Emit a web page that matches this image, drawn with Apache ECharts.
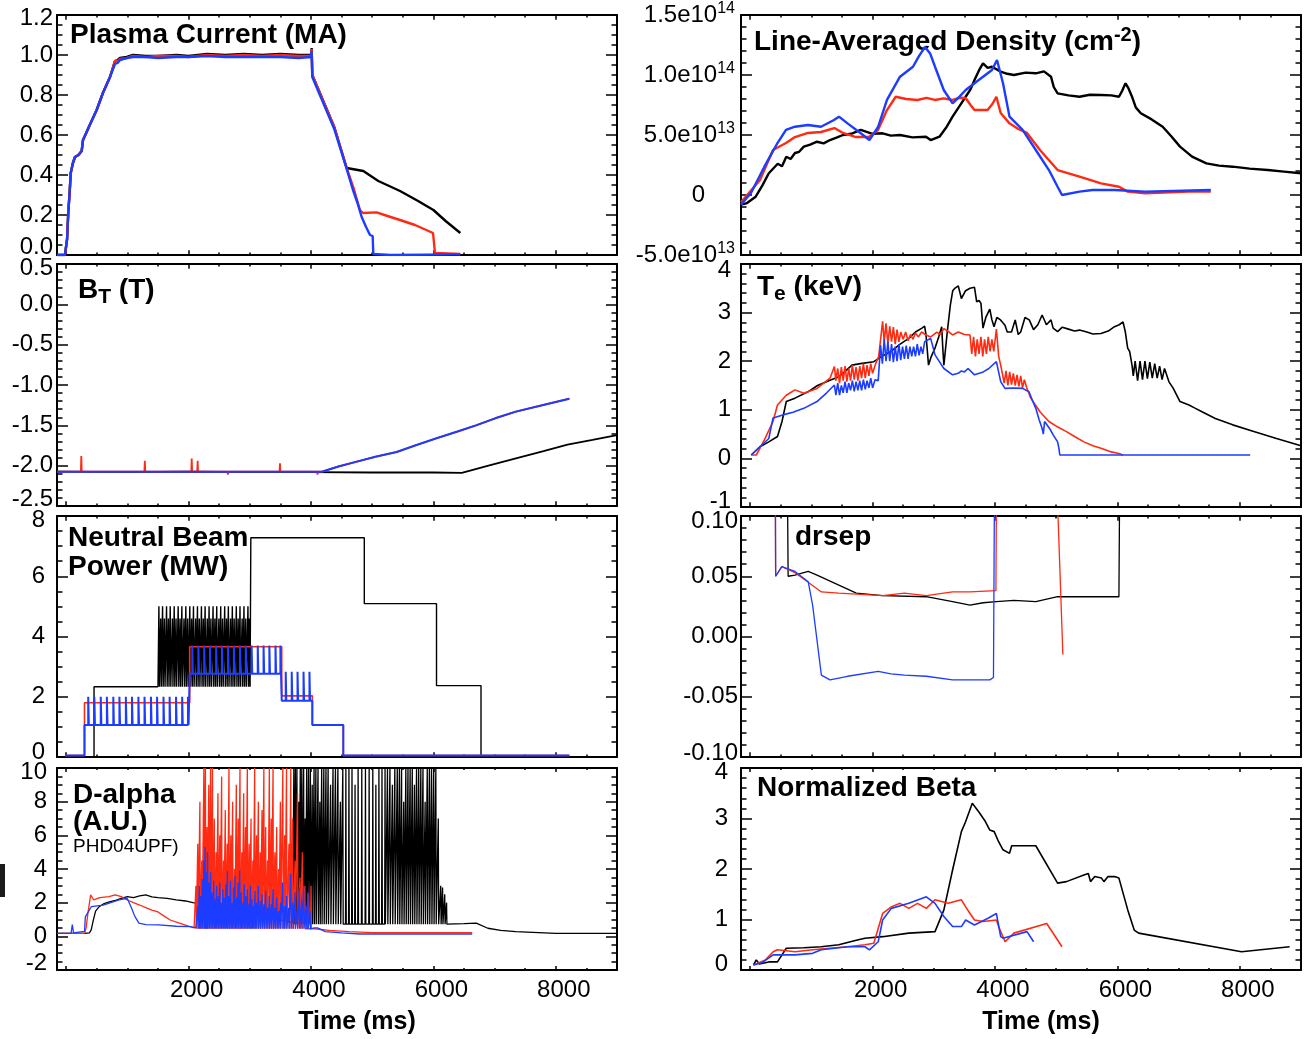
<!DOCTYPE html>
<html><head><meta charset="utf-8">
<script src="https://cdn.jsdelivr.net/npm/echarts@6/dist/echarts.min.js"></script>
<style>html,body{margin:0;padding:0;background:#fff}#c{width:1304px;height:1039px}</style>
</head><body><div id="c"></div>
<script>
// ---------------- DATA (time in ms) ----------------
const xTickLabels = [2000, 4000, 6000, 8000];

// Plasma current (MA)
const ipBlack = [[-150,0],[-20,0],[-5,0.01],[15,0.08],[34,0.21],[60,0.33],[74,0.41],[110,0.46],[144,0.49],[200,0.5],[253,0.52],[275,0.575],[300,0.58],[400,0.66],[498,0.725],[600,0.81],[716,0.89],[797,0.97],[840,0.975],[879,0.985],[989,0.99],[1092,1.0],[1300,0.995],[1500,0.995],[1800,1.0],[2000,0.995],[2300,1.005],[2600,1.0],[2900,1.005],[3200,1.0],[3500,1.005],[3800,1.0],[4000,1.0],[4011,1.035],[4021,0.9],[4040,0.9],[4380,0.64],[4583,0.435],[4610,0.43],[4855,0.42],[5100,0.37],[5455,0.32],[5750,0.27],[6000,0.225],[6200,0.17],[6440,0.11]];
const ipRed = [[-150,0],[-20,0],[-5,0.01],[15,0.08],[34,0.21],[60,0.33],[74,0.41],[110,0.46],[144,0.49],[200,0.5],[253,0.52],[275,0.575],[300,0.58],[400,0.66],[498,0.725],[600,0.81],[716,0.89],[797,0.97],[840,0.97],[879,0.98],[989,0.985],[1092,0.995],[1300,0.99],[1500,0.995],[1800,0.995],[2000,0.99],[2300,1.0],[2600,0.995],[2900,1.0],[3200,0.995],[3500,1.0],[3800,0.995],[4000,0.995],[4011,1.03],[4021,0.9],[4040,0.9],[4380,0.64],[4583,0.435],[4700,0.33],[4800,0.225],[4850,0.21],[5073,0.213],[5250,0.195],[5455,0.175],[5700,0.15],[5994,0.11],[6015,0.105],[6026,0.01],[6440,0.005]];
const ipBlue = [[-150,0],[-20,0],[-5,0.01],[15,0.08],[34,0.21],[60,0.33],[74,0.41],[110,0.46],[144,0.49],[200,0.5],[253,0.52],[275,0.575],[300,0.58],[400,0.66],[498,0.725],[600,0.81],[716,0.89],[797,0.955],[840,0.96],[879,0.975],[989,0.985],[1092,0.99],[1300,0.99],[1500,0.985],[1800,0.99],[2000,0.99],[2300,0.995],[2600,0.99],[2900,0.99],[3200,0.99],[3500,0.99],[3800,0.985],[4000,0.99],[4011,1.02],[4021,0.89],[4040,0.89],[4380,0.63],[4583,0.43],[4686,0.325],[4760,0.26],[4828,0.19],[4900,0.14],[4964,0.1],[5008,0.095],[5018,0.005],[5300,0.0],[6440,0.003]];

// Toroidal field B_T (T)
const btBlack = [[-150,-2.075],[1000,-2.08],[2000,-2.075],[3000,-2.08],[4000,-2.08],[5000,-2.085],[6000,-2.085],[6464,-2.09],[6900,-2.0],[7348,-1.91],[7800,-1.82],[8191,-1.74],[8600,-1.68],[9000,-1.62]];
const btRed = [[-150,-2.075],[240,-2.075],[247,-1.88],[254,-2.075],[1278,-2.075],[1285,-1.94],[1292,-2.075],[2044,-2.075],[2051,-1.91],[2058,-2.075],[2141,-2.075],[2148,-1.94],[2155,-2.075],[2635,-2.075],[2642,-2.11],[2649,-2.075],[3486,-2.075],[3493,-1.97],[3500,-2.075],[4099,-2.075],[4106,-2.11],[4113,-2.075],[4180,-2.075],[4450,-2.01],[4750,-1.95],[5050,-1.89],[5402,-1.83],[5700,-1.75],[6051,-1.66],[6380,-1.58],[6696,-1.50],[7020,-1.41],[7348,-1.33],[7780,-1.25],[8222,-1.17]];
const btBlue = [[-150,-2.075],[4180,-2.075],[4450,-2.01],[4750,-1.95],[5050,-1.89],[5402,-1.83],[5700,-1.75],[6051,-1.66],[6380,-1.58],[6696,-1.50],[7020,-1.41],[7348,-1.33],[7780,-1.25],[8222,-1.17]];

// Neutral beam power (MW)
const nbBlackPre = [[-150,0],[455,0],[455,2.33],[1500,2.33]];
const nbBlackBase = 2.33;
const nbBlackPulses = [[1515,5.0],[1545,4.6],[1575,5.0],[1605,4.6],[1640,5.0],[1670,4.6],[1700,5.0],[1735,4.6],[1765,5.0],[1795,4.6],[1830,5.0],[1860,4.6],[1890,5.0],[1925,4.6],[1955,5.0],[1985,4.6],[2020,5.0],[2050,4.6],[2080,5.0],[2115,4.6],[2145,5.0],[2175,4.6],[2210,5.0],[2240,4.6],[2270,5.0],[2305,4.6],[2335,5.0],[2365,4.6],[2400,5.0],[2430,4.6],[2460,5.0],[2495,4.6],[2525,5.0],[2555,4.6],[2590,5.0],[2620,4.6],[2650,5.0],[2685,4.6],[2715,5.0],[2745,4.6],[2780,5.0],[2810,4.6],[2840,5.0],[2875,4.6],[2905,5.0],[2935,4.6],[2970,5.0],[2995,4.6]];
const nbBlackPost = [[3017,2.33],[3017,7.28],[4871,7.28],[4871,5.09],[6051,5.09],[6051,2.37],[6778,2.37],[6778,0],[9000,0]];
const nbRed = [[-20,0.05],[299,0.05],[299,1.80],[2018,1.80],[2018,3.66],[3522,3.66],[3522,2.03],[4022,2.03],[4022,1.06],[4528,1.06],[4528,0.05],[8222,0.05]];
const nbBlueLevels = [1.06, 2.76, 1.87];
const nbBlueHighs = [2.0, 3.70, 2.83];
const nbBluePulses1 = [360,460,565,665,770,870,975,1075,1180,1280,1385,1485,1590,1690,1795,1895,1990];
const nbBluePulses2 = [2060,2160,2255,2350,2450,2545,2645,2740,2840,2935,3030,3130,3225,3320,3420,3500];
const nbBluePulses3 = [3587,3685,3780,3878,3975];

// D-alpha (A.U.)
const daBlackPre = [[-150,0.18],[300,0.18],[380,0.2],[410,0.4],[440,0.9],[480,1.5],[540,1.76],[620,1.95],[720,2.06],[820,2.15],[900,2.25],[1000,2.36],[1100,2.3],[1200,2.4],[1300,2.46],[1400,2.35],[1500,2.3],[1650,2.25],[1800,2.16],[1950,2.1],[2070,2.0],[2400,1.8],[2800,1.5],[3200,1.2],[3600,0.9],[3700,0.8]];
const daBlackBase = 0.72;
const daBlackElms = [[3720,10],[3745,10],[3770,10],[3800,8],[3825,10],[3850,10],[3880,10],[3905,7],[3930,10],[3960,10],[3990,10],[4020,9],[4050,10],[4080,10],[4115,10],[4145,8],[4175,10],[4210,10],[4245,10],[4280,10],[4320,9],[4360,10],[4400,10],[4440,10],[4480,8],[4520,10],[4570,10],[4620,10],[4670,10],[4720,9],[4770,10],[4830,10],[4890,10],[4950,10],[5010,10],[5060,9],[5110,10],[5160,10],[5210,10],[5250,10],[5290,10],[5330,9],[5370,10],[5410,10],[5445,10],[5480,10],[5515,8],[5550,10],[5585,10],[5620,10],[5655,10],[5690,9],[5725,10],[5760,10],[5795,10],[5830,10],[5865,8],[5900,10],[5935,10],[5970,10],[6005,10],[6040,10],[6080,7],[6120,3.0],[6150,2.9],[6185,2.5],[6215,2.0]];
const daBlackPost = [[6245,0.78],[6500,0.75],[6700,0.78],[6890,0.48],[7100,0.35],[7348,0.28],[8000,0.18],[9000,0.18]];
const daRedPre = [[-150,0.18],[300,0.18],[325,0.5],[360,1.5],[400,2.46],[450,2.16],[550,2.3],[700,2.36],[800,2.46],[900,2.36],[1000,2.16],[1100,2.0],[1200,1.86],[1300,1.7],[1400,1.56],[1500,1.45],[1600,1.2],[1700,0.97],[1850,0.78],[2000,0.6],[2090,0.5]];
const daRedBase = 0.45;
const daRedElms = [[2120,3.0],[2150,5.5],[2185,8.0],[2215,4.5],[2250,10],[2275,10],[2300,6.5],[2330,9.0],[2360,10],[2390,10],[2420,7.0],[2450,5.0],[2480,8.5],[2510,6.0],[2540,9.5],[2570,4.5],[2600,7.5],[2630,5.5],[2660,10],[2690,6.0],[2720,8.0],[2750,4.0],[2780,9.0],[2810,7.0],[2840,10],[2870,5.0],[2900,8.5],[2930,6.5],[2960,10],[2990,5.5],[3020,7.0],[3050,4.5],[3080,10],[3110,6.0],[3140,8.0],[3170,5.0],[3200,7.5],[3230,10],[3260,6.5],[3290,4.5],[3320,10],[3350,7.0],[3380,10],[3410,5.0],[3440,6.5],[3470,4.0],[3500,8.0],[3540,10],[3570,6.0],[3600,10],[3640,5.5],[3670,10],[3700,7.0],[3740,4.5],[3780,8.5],[3820,3.5],[3860,5.0],[3900,3.0],[3950,2.5],[4000,3.0]];
const daRedPost = [[4060,0.45],[4300,0.35],[4624,0.28],[5000,0.22],[6634,0.22]];
const daBluePre = [[-150,0.18],[80,0.18],[100,0.7],[120,0.2],[300,0.3],[313,1.16],[410,1.76],[605,1.86],[864,2.16],[995,2.26],[1059,1.76],[1120,1.2],[1188,0.78],[1300,0.7],[1512,0.68],[1800,0.6],[2032,0.58],[2120,0.5]];
const daBlueBase = 0.45;
const daBlueElms = [[2150,1.8],[2175,3.0],[2200,2.4],[2225,3.4],[2250,4.5],[2270,5.3],[2290,3.8],[2310,5.0],[2335,3.2],[2360,3.8],[2385,2.6],[2410,3.3],[2435,2.2],[2460,3.0],[2485,2.4],[2510,3.2],[2535,2.0],[2560,2.8],[2585,2.3],[2610,3.1],[2635,3.9],[2660,2.4],[2685,3.3],[2710,2.0],[2735,2.9],[2760,3.6],[2785,2.3],[2810,3.2],[2835,3.9],[2860,2.6],[2885,2.0],[2910,3.1],[2935,2.4],[2960,2.8],[2985,1.9],[3010,3.0],[3035,2.2],[3060,1.8],[3085,2.7],[3110,2.0],[3140,3.0],[3170,2.1],[3200,2.5],[3230,1.9],[3260,2.7],[3290,1.7],[3320,2.4],[3350,1.9],[3380,2.8],[3410,1.7],[3440,2.3],[3470,1.5],[3500,2.0],[3535,3.2],[3565,1.8],[3600,2.4],[3635,1.7],[3670,3.7],[3705,2.0],[3740,2.6],[3775,1.6],[3810,2.9],[3845,2.0],[3880,3.0],[3915,1.8],[3950,2.6],[3985,1.5]];
const daBluePost = [[4050,0.5],[4106,0.5],[4235,0.28],[4500,0.2],[4800,0.14],[6634,0.14]];

// Line-averaged density (units of 1e13 cm^-2)
const dnBlack = [[-150,-0.8],[-52,-0.67],[90,-0.14],[200,0.8],[304,1.81],[450,2.6],[520,2.4],[590,3.19],[660,3.0],[732,3.5],[800,3.6],[876,4.03],[980,4.2],[1092,4.44],[1200,4.3],[1304,4.58],[1420,4.8],[1516,5.0],[1650,5.1],[1806,5.42],[2000,5.1],[2163,5.14],[2300,4.95],[2448,5.0],[2650,4.8],[2872,4.86],[2949,4.58],[3093,4.86],[3200,5.6],[3307,6.53],[3420,7.4],[3521,8.19],[3600,8.8],[3665,9.58],[3740,10.4],[3804,10.97],[3880,10.6],[3951,10.69],[4093,10.28],[4200,10.1],[4309,10.0],[4500,10.2],[4667,10.14],[4800,10.3],[4915,9.86],[4960,9.0],[5023,8.47],[5200,8.3],[5381,8.19],[5550,8.35],[5732,8.33],[5900,8.3],[6026,8.19],[6080,8.7],[6133,9.31],[6180,8.9],[6239,8.19],[6300,7.3],[6382,6.81],[6560,6.3],[6740,5.69],[6880,4.9],[7023,4.03],[7220,3.2],[7454,2.64],[7660,2.45],[7884,2.36],[8160,2.2],[8456,2.08],[8720,1.95],[9000,1.81]];
const dnRed = [[-150,-0.6],[160,1.25],[373,3.75],[585,4.33],[732,4.83],[944,5.17],[1157,5.25],[1376,5.58],[1516,5.17],[1729,4.83],[1941,4.83],[2088,5.42],[2235,7.08],[2378,8.19],[2550,8.0],[2735,7.92],[2880,8.1],[3020,7.92],[3160,8.05],[3307,7.92],[3420,8.1],[3521,8.08],[3600,7.5],[3665,7.08],[3879,7.08],[3960,7.6],[4023,8.19],[4093,6.83],[4237,5.97],[4380,5.5],[4523,5.17],[4735,3.75],[5023,2.08],[5381,1.53],[5732,0.97],[6026,0.69],[6168,0.28],[6451,0.14],[7170,0.28],[7526,0.28]];
const dnBlue = [[-150,-0.8],[13,0.17],[232,2.36],[446,4.33],[585,5.42],[732,5.69],[944,5.83],[1157,5.69],[1369,6.25],[1451,6.53],[1591,5.97],[1806,5.14],[1948,4.58],[2092,5.69],[2235,7.92],[2448,9.86],[2660,10.69],[2760,11.6],[2857,12.33],[2940,11.8],[3020,10.69],[3163,8.75],[3307,7.64],[3420,8.2],[3521,8.75],[3735,9.58],[3951,10.42],[4033,11.25],[4131,9.31],[4237,6.53],[4451,5.42],[4667,3.75],[4881,2.08],[5023,0.69],[5095,0.0],[5381,0.28],[5595,0.42],[5953,0.42],[6451,0.28],[7526,0.42]];
const dnTickMant = ['-5.0e10', '0', '5.0e10', '1.0e10', '1.5e10'];
const dnTickExp = ['13', '', '13', '14', '14'];

// Electron temperature (keV)
const teBlack = [[18,0.07],[160,0.24],[304,0.34],[446,0.45],[520,0.76],[590,1.17],[732,1.24],[944,1.37],[1100,1.5],[1304,1.61],[1451,1.68],[1560,1.8],[1663,1.92],[1800,1.95],[2020,1.99],[2150,2.1],[2301,2.2],[2450,2.35],[2592,2.47],[2700,2.6],[2807,2.68],[2850,2.72],[2873,2.54],[2914,1.92],[2960,2.1],[3020,2.27],[3080,2.5],[3129,2.71],[3150,2.2],[3165,1.92],[3220,2.6],[3271,3.16],[3310,3.45],[3343,3.5],[3400,3.55],[3451,3.29],[3520,3.45],[3592,3.5],[3665,3.52],[3701,3.22],[3740,3.25],[3771,3.19],[3804,2.68],[3850,2.9],[3915,3.07],[3950,2.85],[3984,2.71],[4030,2.9],[4091,2.85],[4163,2.74],[4200,2.6],[4270,2.6],[4330,2.85],[4380,2.55],[4420,2.6],[4490,2.9],[4560,2.85],[4630,2.65],[4700,2.75],[4770,2.95],[4840,2.75],[4915,2.85],[4950,2.68],[5023,2.61],[5100,2.7],[5200,2.66],[5300,2.62],[5381,2.64],[5500,2.6],[5600,2.56],[5732,2.57],[5850,2.62],[5953,2.71],[6030,2.75],[6092,2.81],[6130,2.6],[6168,2.27],[6200,2.2],[6239,1.92],[6260,1.7],[6290,2.0],[6330,1.6],[6370,2.0],[6410,1.62],[6450,2.0],[6490,1.64],[6530,1.98],[6570,1.65],[6610,1.95],[6650,1.65],[6690,1.9],[6730,1.62],[6770,1.85],[6841,1.58],[6913,1.44],[7023,1.17],[7170,1.1],[7260,1.04],[7382,0.96],[7600,0.82],[7884,0.69],[8242,0.55],[8600,0.41],[9000,0.26]];
const teRed = [[18,0.07],[100,0.07],[232,0.38],[373,0.76],[446,1.1],[590,1.3],[732,1.41],[876,1.34],[1092,1.44],[1304,1.65],[1376,1.89],[1400,1.6],[1430,1.85],[1460,1.55],[1490,1.88],[1520,1.6],[1550,1.9],[1580,1.58],[1610,1.85],[1640,1.6],[1670,1.92],[1700,1.62],[1730,1.88],[1760,1.6],[1790,1.9],[1820,1.65],[1850,1.95],[1880,1.65],[1910,1.92],[1940,1.7],[1970,1.95],[2000,1.75],[2050,1.95],[2100,2.1],[2164,2.82],[2190,2.4],[2220,2.78],[2250,2.35],[2280,2.72],[2310,2.4],[2340,2.7],[2370,2.35],[2400,2.65],[2430,2.4],[2460,2.6],[2500,2.45],[2540,2.6],[2580,2.42],[2620,2.55],[2660,2.45],[2700,2.58],[2750,2.5],[2800,2.6],[2873,2.54],[2950,2.5],[3050,2.6],[3100,2.55],[3165,2.67],[3250,2.6],[3307,2.54],[3400,2.6],[3500,2.55],[3592,2.54],[3620,2.15],[3650,2.5],[3680,2.1],[3710,2.45],[3740,2.15],[3770,2.5],[3800,2.1],[3830,2.45],[3860,2.15],[3890,2.5],[3920,2.2],[3950,2.45],[3980,2.2],[4023,2.66],[4060,2.1],[4093,1.92],[4120,1.75],[4150,1.55],[4180,1.8],[4210,1.5],[4240,1.78],[4270,1.52],[4300,1.75],[4330,1.5],[4360,1.72],[4390,1.48],[4420,1.7],[4450,1.45],[4480,1.62],[4520,1.45],[4584,1.24],[4660,1.1],[4735,0.96],[4881,0.76],[5020,0.65],[5167,0.55],[5300,0.45],[5453,0.34],[5600,0.26],[5732,0.21],[5880,0.14],[6025,0.1],[6091,0.07]];
const teBlue = [[18,0.07],[160,0.24],[304,0.41],[373,0.83],[520,0.89],[700,0.95],[876,1.03],[1092,1.17],[1250,1.35],[1376,1.51],[1400,1.3],[1430,1.55],[1460,1.3],[1490,1.5],[1520,1.35],[1550,1.58],[1580,1.35],[1610,1.55],[1640,1.4],[1670,1.6],[1700,1.38],[1730,1.58],[1760,1.4],[1790,1.6],[1820,1.4],[1850,1.62],[1880,1.42],[1910,1.6],[1940,1.45],[1970,1.65],[2000,1.45],[2040,1.62],[2092,1.6],[2130,2.33],[2160,1.95],[2190,2.45],[2220,2.0],[2250,2.4],[2280,2.0],[2310,2.35],[2340,1.98],[2370,2.3],[2400,2.0],[2430,2.35],[2460,2.02],[2490,2.3],[2520,2.05],[2550,2.32],[2580,2.05],[2610,2.3],[2640,2.1],[2670,2.3],[2700,2.1],[2730,2.35],[2760,2.12],[2790,2.3],[2820,2.15],[2850,2.4],[2949,2.47],[3020,2.13],[3165,1.85],[3307,1.72],[3400,1.75],[3451,1.8],[3500,1.78],[3560,1.85],[3665,1.72],[3808,1.78],[3900,1.85],[4023,1.99],[4050,1.95],[4093,1.58],[4163,1.44],[4300,1.45],[4451,1.44],[4555,1.37],[4610,1.2],[4667,1.03],[4720,0.8],[4769,0.62],[4790,0.5],[4810,0.76],[4900,0.6],[4953,0.48],[5023,0.34],[5045,0.2],[5059,0.07],[8170,0.07]];

// drsep (m)
const dsBlack = [[611,0.11],[620,0.05],[732,0.051],[948,0.054],[1092,0.051],[1734,0.036],[2164,0.034],[2878,0.033],[3307,0.029],[3592,0.026],[3808,0.028],[4023,0.029],[4309,0.030],[4667,0.029],[5023,0.033],[5381,0.033],[5739,0.033],[6025,0.033],[6035,0.11]];
const dsRed = [[412,0.11],[416,0.05],[516,0.058],[732,0.053],[948,0.045],[1163,0.037],[1448,0.036],[2164,0.034],[2521,0.036],[2878,0.034],[3307,0.037],[3592,0.037],[4015,0.038],[4023,0.11]];
const dsRed2 = [[5023,0.11],[5109,-0.015]];
const dsBlue = [[412,0.11],[416,0.05],[516,0.058],[732,0.054],[948,0.0455],[1020,0.026],[1163,-0.032],[1304,-0.036],[1591,-0.033],[2092,-0.029],[2300,-0.031],[2521,-0.032],[2878,-0.033],[3307,-0.036],[3592,-0.036],[3915,-0.036],[3975,-0.034],[3990,0.11]];

// Normalized beta
const bnBlack = [[54,0.1],[100,0.2],[150,0.12],[304,0.16],[446,0.16],[590,0.43],[876,0.44],[1162,0.46],[1448,0.5],[1734,0.59],[1876,0.63],[2164,0.66],[2592,0.73],[3020,0.76],[3165,1.19],[3307,1.98],[3451,2.74],[3521,2.94],[3629,3.30],[3737,3.13],[3843,2.94],[3915,2.77],[3987,2.74],[4059,2.54],[4131,2.38],[4237,2.31],[4273,2.46],[4667,2.46],[5023,1.72],[5167,1.75],[5453,1.88],[5525,1.91],[5561,1.75],[5630,1.85],[5740,1.82],[5780,1.75],[5847,1.85],[5953,1.85],[6025,1.82],[6169,1.19],[6275,0.79],[6347,0.73],[8028,0.36],[8814,0.46]];
const bnRed = [[54,0.1],[250,0.2],[376,0.36],[446,0.4],[732,0.36],[1020,0.4],[1304,0.43],[1591,0.46],[1876,0.5],[2020,0.53],[2164,1.12],[2306,1.25],[2448,1.32],[2592,1.22],[2735,1.32],[2878,1.22],[3020,1.39],[3235,1.32],[3451,1.39],[3521,1.25],[3592,1.12],[3665,0.99],[3808,0.96],[4023,0.99],[4060,0.86],[4165,0.56],[4309,0.73],[4845,0.92],[5095,0.46]];
const bnBlue = [[54,0.1],[200,0.15],[376,0.3],[732,0.3],[1020,0.33],[1162,0.4],[1591,0.46],[1876,0.46],[1948,0.4],[2092,0.56],[2164,0.99],[2306,1.22],[2592,1.32],[2878,1.45],[3020,1.32],[3165,1.06],[3307,0.86],[3451,0.86],[3521,0.99],[3665,0.89],[3879,1.02],[4023,1.12],[4093,0.66],[4131,0.63],[4523,0.76],[4631,0.56]];

// y tick labels
const ipTicks = ['0.0','0.2','0.4','0.6','0.8','1.0','1.2'];
const btTicks = ['-2.5','-2.0','-1.5','-1.0','-0.5','0.0','0.5'];
const nbTicks = ['0','2','4','6','8'];
const daTicks = ['-2','0','2','4','6','8','10'];
const teTicks = ['-1','0','1','2','3','4'];
const dsTicks = ['-0.10','-0.05','0.00','0.05','0.10'];
const bnTicks = ['0','1','2','3','4'];

// ---------------- BUILD ----------------
const FONT = "'Liberation Sans', Arial, Helvetica, sans-serif";
const BLACK = '#000000', RED = '#ff2a12', BLUE = '#1c3cff';

function spikeTrain(spikes, base) {
  const out = [];
  spikes.forEach(([t, h]) => { out.push([t - 6, base], [t, h], [t + 6, base]); });
  return out;
}
function pulseTrain(times, base, high) {
  const out = [];
  times.forEach(t => { out.push([t, base], [t, high], [t + 10, high], [t + 10, base]); });
  return out;
}
function pulseTrainH(pulses, base) {
  const out = [];
  pulses.forEach(([t, h]) => { out.push([t, base], [t, h], [t + 10, h], [t + 10, base]); });
  return out;
}

const nbBlack = nbBlackPre.concat(pulseTrainH(nbBlackPulses, nbBlackBase), nbBlackPost);
const nbBlue = [[-20,0.05],[299,0.05],[299,nbBlueLevels[0]]]
  .concat(pulseTrain(nbBluePulses1, nbBlueLevels[0], nbBlueHighs[0]))
  .concat([[2018,nbBlueLevels[0]],[2018,nbBlueLevels[1]]])
  .concat(pulseTrain(nbBluePulses2, nbBlueLevels[1], nbBlueHighs[1]))
  .concat([[3522,nbBlueLevels[1]],[3522,nbBlueLevels[2]]])
  .concat(pulseTrain(nbBluePulses3, nbBlueLevels[2], nbBlueHighs[2]))
  .concat([[4022,nbBlueLevels[2]],[4022,1.06],[4528,1.06],[4528,0.05],[8222,0.05]]);
const daBlack = daBlackPre.concat(spikeTrain(daBlackElms, daBlackBase), daBlackPost);
const daRed = daRedPre.concat(spikeTrain(daRedElms, daRedBase), daRedPost);
const daBlue = daBluePre.concat(spikeTrain(daBlueElms, daBlueBase), daBluePost);

const panels = [
  {grid:{left:57,top:15,width:560,height:240}, min:0, max:1.2, interval:0.2, minor:4, ticks:ipTicks, margin:4, dT:3, dB:-8, bottom:false},
  {grid:{left:57,top:264,width:560,height:242}, min:-2.5, max:0.5, interval:0.5, minor:5, ticks:btTicks, margin:4, dT:4, dB:-7, bottom:false},
  {grid:{left:57,top:516,width:560,height:241}, min:0, max:8, interval:2, minor:4, ticks:nbTicks, margin:12, dT:4, dB:-5, bottom:false},
  {grid:{left:57,top:768,width:560,height:202}, min:-2, max:10, interval:2, minor:4, ticks:daTicks, margin:10, dT:4, dB:-7, bottom:true},
  {grid:{left:741,top:15,width:560,height:240}, min:-5, max:15, interval:5, minor:5, density:true, margin:6, bottom:false},
  {grid:{left:741,top:264,width:560,height:243}, min:-1, max:4, interval:1, minor:5, ticks:teTicks, margin:10, dT:6, dB:-6, bottom:false},
  {grid:{left:741,top:516,width:560,height:241}, min:-0.1, max:0.1, interval:0.05, minor:5, ticks:dsTicks, margin:3, dT:5, dB:-4, bottom:false},
  {grid:{left:741,top:768,width:560,height:202}, min:0, max:4, interval:1, minor:5, ticks:bnTicks, margin:13, dT:4, dB:-6, bottom:true}
];

const lblBase = {fontSize:24, fontFamily:FONT, color:'#000'};
const grids = [], xAxes = [], yAxes = [];
panels.forEach((p, gi) => {
  grids.push(Object.assign({containLabel:false}, p.grid));
  const xLen = p.grid.height * 0.02;
  const xc = {
    type:'value', gridIndex:gi, min:-150, max:9000, splitNumber:4,
    axisLine:{show:true, onZero:false, lineStyle:{color:'#000', width:2}},
    axisTick:{show:true, inside:true, length:xLen, lineStyle:{color:'#000', width:1.5}},
    minorTick:{show:true, splitNumber:4, length:xLen/2, lineStyle:{color:'#000', width:1.5}},
    splitLine:{show:false}, minorSplitLine:{show:false}
  };
  xAxes.push(Object.assign({}, xc, {position:'bottom', axisLabel:{show:p.bottom, formatter:v => xTickLabels.indexOf(v) >= 0 ? String(v) : '', fontSize:24, fontFamily:FONT, color:'#000', margin:8, padding:[0,0,0,16]}}));
  xAxes.push(Object.assign({}, xc, {position:'top', axisLabel:{show:false}}));
  const yc = {
    type:'value', gridIndex:gi, min:p.min, max:p.max, interval:p.interval,
    axisLine:{show:true, onZero:false, lineStyle:{color:'#000', width:2}},
    axisTick:{show:true, inside:true, length:11, lineStyle:{color:'#000', width:1.5}},
    minorTick:{show:true, splitNumber:p.minor, length:5.5, lineStyle:{color:'#000', width:1.5}},
    splitLine:{show:false}, minorSplitLine:{show:false}
  };
  let label;
  if (p.density) {
    label = {
      margin:p.margin,
      formatter: v => {
        const i = Math.round((v - p.min) / p.interval);
        if (dnTickExp[i] === '') return '{z|' + dnTickMant[i] + '}';
        return '{m|' + dnTickMant[i] + '}{s|' + dnTickExp[i] + '}';
      },
      rich:{
        m:Object.assign({}, lblBase, {verticalAlign:'middle'}),
        s:{fontSize:16, fontFamily:FONT, color:'#000', verticalAlign:'top', padding:[0,0,12,0]},
        z:Object.assign({}, lblBase, {padding:[0,30,0,0]})
      }
    };
  } else {
    label = {
      margin:p.margin,
      formatter: v => {
        const i = Math.round((v - p.min) / p.interval);
        const txt = p.ticks[i];
        if (i === p.ticks.length - 1) return '{t|' + txt + '}';
        if (i === 0) return '{b|' + txt + '}';
        return '{m|' + txt + '}';
      },
      rich:{
        m:Object.assign({}, lblBase),
        t:Object.assign({}, lblBase, {padding:[2*p.dT,0,0,0]}),
        b:Object.assign({}, lblBase, {padding:[0,0,-2*p.dB,0]})
      }
    };
  }
  yAxes.push(Object.assign({}, yc, {position:'left', axisLabel:label}));
  yAxes.push(Object.assign({}, yc, {position:'right', axisLabel:{show:false}}));
});

function line(gi, data, color, width) {
  return {type:'line', xAxisIndex:2*gi, yAxisIndex:2*gi, data:data, showSymbol:false, symbol:'none',
    lineStyle:{color:color, width:width}, clip:true, silent:true, animation:false};
}

const series = [
  line(0, ipBlack, BLACK, 2.4), line(0, ipRed, RED, 2.4), line(0, ipBlue, BLUE, 2.4),
  line(1, btBlack, BLACK, 1.8), line(1, btRed, RED, 1.8), line(1, btBlue, BLUE, 2),
  line(2, nbBlack, BLACK, 1.4), line(2, nbRed, RED, 1.6), line(2, nbBlue, BLUE, 2),
  line(3, daBlack, BLACK, 1.3), line(3, daRed, RED, 1.3), line(3, daBlue, BLUE, 1.3),
  line(4, dnBlack, BLACK, 2.4), line(4, dnRed, RED, 2.4), line(4, dnBlue, BLUE, 2.4),
  line(5, teBlack, BLACK, 1.6), line(5, teRed, RED, 1.6), line(5, teBlue, BLUE, 1.6),
  line(6, dsBlack, BLACK, 1.3), line(6, dsRed, RED, 1.3), line(6, dsRed2, RED, 1.3), line(6, dsBlue, BLUE, 1.3),
  line(7, bnBlack, BLACK, 1.6), line(7, bnRed, RED, 1.6), line(7, bnBlue, BLUE, 1.6)
];

const TS = 28;
const T = {fontSize:TS, fontWeight:'bold', fontFamily:FONT, fill:'#000', verticalAlign:'middle'};
function title(x, y, text, rich) {
  const st = {text:text, fontSize:TS, fontWeight:'bold', fontFamily:FONT, fill:'#000', align:'left', verticalAlign:'middle'};
  if (rich) st.rich = rich;
  return {type:'text', x:x, y:y, silent:true, style:st};
}
const subRich = {m:T, sub:{fontSize:21, fontWeight:'bold', fontFamily:FONT, fill:'#000', verticalAlign:'bottom', padding:[14,0,0,0]}};
const supRich = {m:T, sup:{fontSize:20, fontWeight:'bold', fontFamily:FONT, fill:'#000', verticalAlign:'top', padding:[0,0,14,0]}};

const graphic = [
  title(70, 35, 'Plasma Current (MA)'),
  title(78, 290, '{m|B}{sub|T}{m| (T)}', subRich),
  title(68, 538, 'Neutral Beam'),
  title(68, 567, 'Power (MW)'),
  title(73, 795, 'D-alpha'),
  title(73, 822, '(A.U.)'),
  {type:'text', x:73, y:847, silent:true, style:{text:'PHD04UPF)', fontSize:19, fontFamily:FONT, fill:'#000', align:'left', verticalAlign:'middle'}},
  title(754, 42, '{m|Line-Averaged Density (cm}{sup|-2}{m|)}', supRich),
  title(757, 287, '{m|T}{sub|e}{m| (keV)}', subRich),
  title(795, 537, 'drsep'),
  title(757, 788, 'Normalized Beta'),
  {type:'text', x:357, y:1022, silent:true, style:{text:'Time (ms)', fontSize:25, fontWeight:'bold', fontFamily:FONT, fill:'#000', align:'center', verticalAlign:'middle'}},
  {type:'text', x:1041, y:1022, silent:true, style:{text:'Time (ms)', fontSize:25, fontWeight:'bold', fontFamily:FONT, fill:'#000', align:'center', verticalAlign:'middle'}},
  {type:'rect', silent:true, shape:{x:0, y:864, width:5, height:33}, style:{fill:'#1a1a1a'}}
];

const chart = echarts.init(document.getElementById('c'), null, {renderer:'canvas'});
chart.setOption({
  animation:false,
  backgroundColor:'#ffffff',
  textStyle:{fontFamily:FONT},
  grid:grids, xAxis:xAxes, yAxis:yAxes, series:series, graphic:graphic
});
</script></body></html>
